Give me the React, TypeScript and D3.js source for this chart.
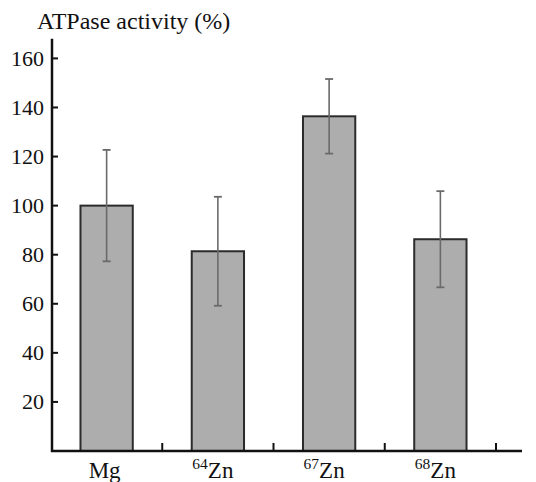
import React from "react";
import { scaleBand, scaleLinear } from "d3";

const svgWidth = 536;
const svgHeight = 482;
const serifFamily = "Liberation Serif";
const serifStyle = { fontFamily: `"${serifFamily}"` };

// data
const categories = ["Mg", "64Zn", "67Zn", "68Zn"];
const isotopes = ["", "64", "67", "68"];
const elements = ["Mg", "Zn", "Zn", "Zn"];
const means = [100, 81.4, 136.4, 86.3];
const errors = [22.7, 22.2, 15.2, 19.6];
const yTicks = [20, 40, 60, 80, 100, 120, 140, 160];
const yLabel = "ATPase activity (%)";

const axisX = 52;
const axisY = 451;
const plotRight = 496;
const axisEnd = 522;
const yTop = 168;

function App() {
  const xScale = scaleBand<string>().domain(categories).range([axisX - 1, plotRight]);
  const yScale = scaleLinear().domain([0, 160]).range([axisY, 58.4]);
  const barWidth = xScale.bandwidth() * 0.47;
  const capHalf = 4;

  return (
    <svg
      width={svgWidth}
      height={svgHeight}
      style={{ position: "absolute", left: 0, top: 0 }}
    >
      <style>{`text, tspan { font-family: "Liberation Serif", "Tinos", "Times New Roman", Times; }`}</style>
      <rect width={svgWidth} height={svgHeight} fill="#fff" />
      <text x={37} y={28.5} fontSize={24} fill="#111" fontFamily={serifFamily} style={serifStyle}>
        {yLabel}
      </text>

      {/* bars */}
      {categories.map((c, i) => {
        const cx = xScale(c)! + xScale.bandwidth() / 2;
        return (
          <rect
            key={`bar-${c}`}
            x={cx - barWidth / 2}
            y={yScale(means[i])}
            width={barWidth}
            height={axisY - yScale(means[i])}
            fill="#adadad"
            stroke="#2b2b2b"
            strokeWidth={2}
          />
        );
      })}

      {/* error bars */}
      {categories.map((c, i) => {
        const cx = xScale(c)! + xScale.bandwidth() / 2;
        const hi = yScale(means[i] + errors[i]);
        const lo = yScale(means[i] - errors[i]);
        return (
          <g key={`err-${c}`} stroke="#6a6a6a">
            <line x1={cx} x2={cx} y1={hi} y2={lo} strokeWidth={1.6} />
            <line x1={cx - capHalf} x2={cx + capHalf} y1={hi} y2={hi} strokeWidth={1.8} />
            <line x1={cx - capHalf} x2={cx + capHalf} y1={lo} y2={lo} strokeWidth={1.8} />
          </g>
        );
      })}

      {/* y axis */}
      <line x1={axisX} x2={axisX} y1={yScale(yTop)} y2={axisY + 1} stroke="#111" strokeWidth={2.5} />
      {yTicks.map((t) => (
        <g key={`y-${t}`} transform={`translate(0,${yScale(t)})`}>
          <line x1={axisX} x2={axisX + 6} stroke="#111" strokeWidth={2} />
          <text
            x={axisX - 8}
            dy="0.34em"
            textAnchor="end"
            fontSize={22}
            fill="#111"
            fontFamily={serifFamily}
            style={serifStyle}
          >
            {t}
          </text>
        </g>
      ))}

      {/* x axis */}
      <line x1={axisX - 1} x2={axisEnd} y1={axisY} y2={axisY} stroke="#111" strokeWidth={2.5} />
      {categories.map((c) => {
        const x = xScale(c)! + xScale.bandwidth();
        return (
          <line key={`xt-${c}`} x1={x} x2={x} y1={axisY} y2={axisY - 8} stroke="#111" strokeWidth={2} />
        );
      })}
      {categories.map((c, i) => {
        const cx = xScale(c)! + xScale.bandwidth() / 2;
        return (
          <text
            key={`xl-${c}`}
            x={cx - (isotopes[i] ? 5 : 2)}
            y={478}
            textAnchor="middle"
            fontSize={23}
            fill="#111"
            fontFamily={serifFamily}
            style={serifStyle}
          >
            {isotopes[i] && (
              <tspan fontSize={15.5} dy={-9}>
                {isotopes[i]}
              </tspan>
            )}
            <tspan dy={isotopes[i] ? 9 : 0}>{elements[i]}</tspan>
          </text>
        );
      })}
    </svg>
  );
}

export default App;
